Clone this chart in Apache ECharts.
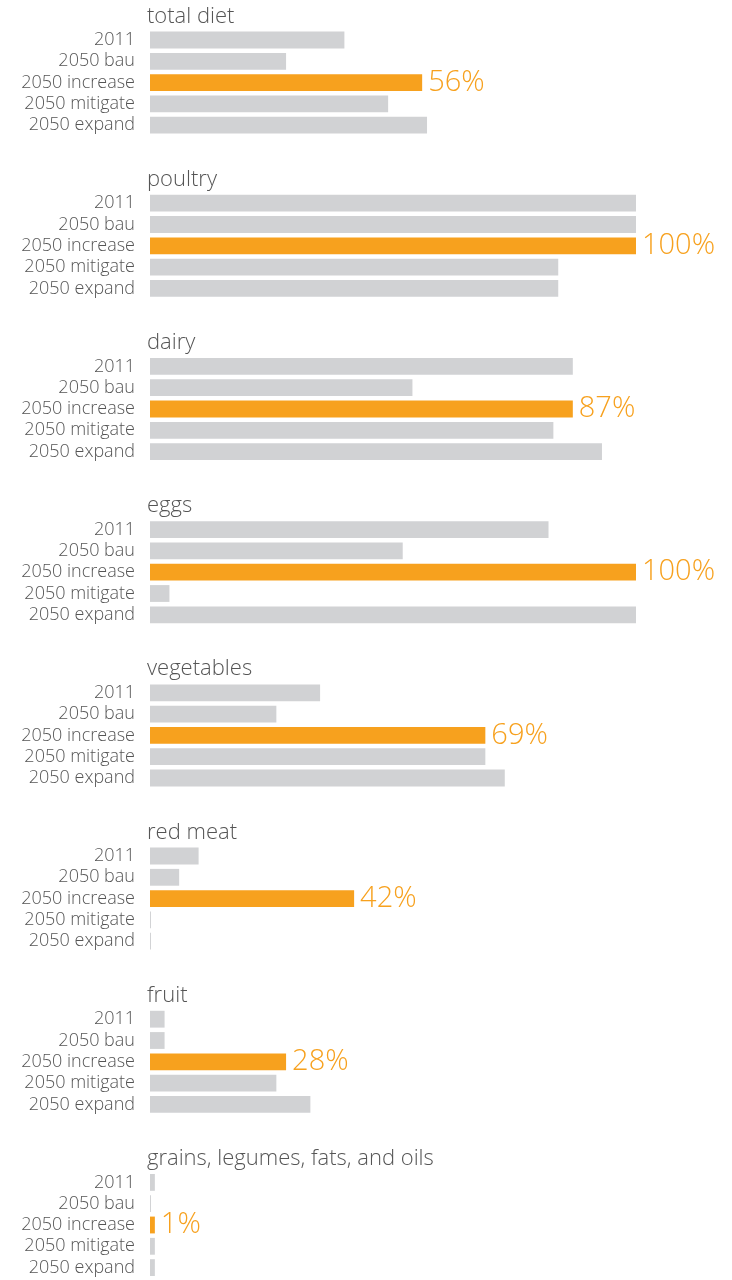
<!DOCTYPE html>
<html>
<head>
<meta charset="utf-8">
<script src="https://cdn.jsdelivr.net/npm/echarts@6/dist/echarts.min.js"></script>
<style>
html,body{margin:0;padding:0;background:#fff;}
#chart{width:732px;height:1280px;}
</style>
</head>
<body>
<div id="chart"></div>
<script>
const groups = ['total diet', 'poultry', 'dairy', 'eggs', 'vegetables', 'red meat', 'fruit', 'grains, legumes, fats, and oils'];
const scenarios = ['2011', '2050 bau', '2050 increase', '2050 mitigate', '2050 expand'];
const totalDiet = [40, 28, 56, 49, 57];
const poultry = [100, 100, 100, 84, 84];
const dairy = [87, 54, 87, 83, 93];
const eggs = [82, 52, 100, 4, 100];
const vegetables = [35, 26, 69, 69, 73];
const redMeat = [10, 6, 42, 0.2, 0.2];
const fruit = [3, 3, 28, 26, 33];
const grains = [1, 0.2, 1, 1, 1];
const highlight = '2050 increase';

const values = [totalDiet, poultry, dairy, eggs, vegetables, redMeat, fruit, grains];

const FONT = '"Open Sans", sans-serif';
const GRAY = '#d1d2d4';
const ORANGE = '#f7a11e';
const TEXT = '#555';
const firstRow = 40, groupPitch = 163.2, rowH = 21.3;

const grids = [], xAxes = [], yAxes = [], series = [], graphics = [];
groups.forEach((g, k) => {
  const top = firstRow + groupPitch * k - rowH / 2;
  grids.push({ left: 150, width: 486, top: top, height: rowH * 5 });
  xAxes.push({ gridIndex: k, type: 'value', min: 0, max: 100, show: false });
  yAxes.push({
    gridIndex: k, type: 'category', data: scenarios, inverse: true,
    axisLine: { show: false }, axisTick: { show: false }, splitLine: { show: false },
    axisLabel: { interval: 0, hideOverlap: false, color: TEXT, fontFamily: FONT, fontSize: 18, fontWeight: 300, margin: 15, padding: [3, 0, 0, 0] }
  });
  series.push({
    type: 'bar', xAxisIndex: k, yAxisIndex: k, barCategoryGap: '21%', silent: true,
    data: values[k].map((v, i) => {
      const isH = scenarios[i] === highlight;
      return {
        value: v,
        itemStyle: { color: isH ? ORANGE : GRAY },
        label: isH ? { show: true, position: 'right', distance: 6, formatter: '{c}%', color: ORANGE, fontFamily: FONT, fontSize: 29, fontWeight: 300 } : { show: false }
      };
    })
  });
  graphics.push({
    type: 'text', left: 147, top: top - 24,
    style: { text: g, fill: TEXT, font: '300 22px ' + FONT }
  });
});

const chart = echarts.init(document.getElementById('chart'));
chart.setOption({
  animation: false,
  grid: grids, xAxis: xAxes, yAxis: yAxes, series: series, graphic: graphics
});
</script>
</body>
</html>
